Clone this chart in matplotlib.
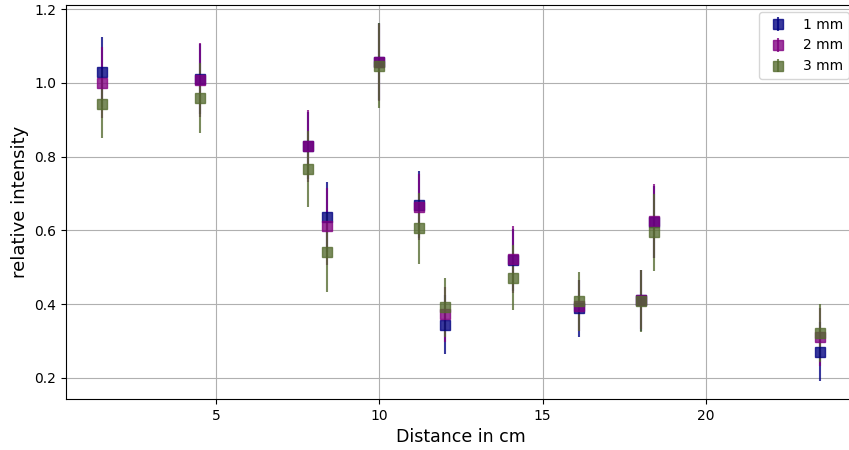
import matplotlib
matplotlib.use("Agg")
import matplotlib.pyplot as plt

# distances (cm) and relative intensities per slit width
x = [1.5, 4.5, 7.8, 8.4, 10.0, 11.2, 12.0, 14.1, 16.1, 18.0, 18.4, 23.5]

y_1mm = [1.031, 1.010, 0.830, 0.636, 1.058, 0.670, 0.344, 0.520, 0.388, 0.410, 0.622, 0.271]
e_1mm = [0.095, 0.095, 0.090, 0.096, 0.105, 0.092, 0.080, 0.085, 0.076, 0.082, 0.098, 0.080]

y_2mm = [1.001, 1.008, 0.829, 0.611, 1.056, 0.664, 0.372, 0.521, 0.396, 0.412, 0.625, 0.310]
e_2mm = [0.097, 0.100, 0.097, 0.104, 0.105, 0.090, 0.075, 0.090, 0.070, 0.080, 0.100, 0.078]

y_3mm = [0.944, 0.959, 0.767, 0.541, 1.047, 0.606, 0.392, 0.472, 0.407, 0.408, 0.595, 0.321]
e_3mm = [0.092, 0.094, 0.104, 0.107, 0.115, 0.096, 0.080, 0.089, 0.080, 0.085, 0.105, 0.078]

series = [("1 mm", y_1mm, e_1mm, "navy"),
          ("2 mm", y_2mm, e_2mm, "purple"),
          ("3 mm", y_3mm, e_3mm, "darkolivegreen")]

fig = plt.figure(figsize=(8.49, 4.5), dpi=100)
# right edge of the axes runs slightly past the figure, as in the original crop
ax = fig.add_axes([66 / 849, 51 / 450, 790 / 849, 394 / 450])

for label, y, e, c in series:
    ax.errorbar(x, y, yerr=e, fmt="s", color=c, markersize=6.5,
                alpha=0.78, label=label)

ax.grid(True)
ax.set_xlabel("Distance in cm", fontsize=12.5)
ax.set_ylabel("relative intensity", fontsize=13)
ax.legend(loc="upper right")

fig.savefig("out.png", dpi=100)
